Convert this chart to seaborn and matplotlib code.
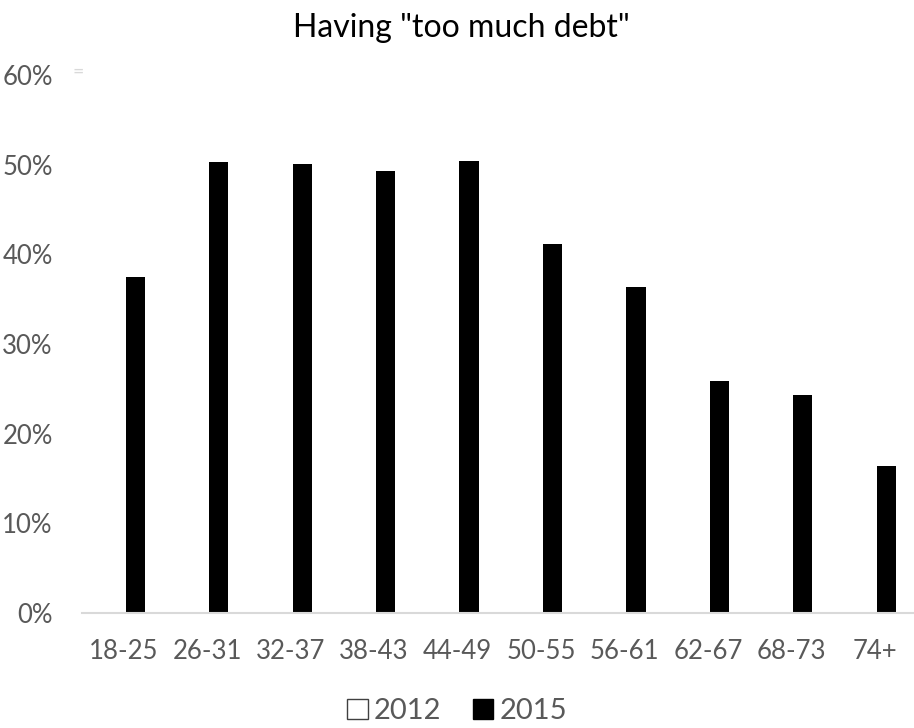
import matplotlib
matplotlib.use("Agg")
import matplotlib.pyplot as plt
from matplotlib.patches import Patch
import numpy as np
import pandas as pd
import seaborn as sns

# Share of respondents saying they have "too much debt", by age group
age_groups = ["18-25", "26-31", "32-37", "38-43", "44-49",
              "50-55", "56-61", "62-67", "68-73", "74+"]
share_2012 = [np.nan] * len(age_groups)
share_2015 = [0.375, 0.503, 0.501, 0.493, 0.504,
              0.412, 0.364, 0.259, 0.243, 0.164]
years = ["2012", "2015"]
y_ticks = [0.0, 0.1, 0.2, 0.3, 0.4, 0.5, 0.6]

df = pd.DataFrame({
    "age": age_groups * 2,
    "year": ["2012"] * len(age_groups) + ["2015"] * len(age_groups),
    "share": share_2012 + share_2015,
})

sns.set_theme(style="white")
plt.rcParams["font.family"] = ["Lato", "DejaVu Sans"]

fig = plt.figure(figsize=(9.14, 7.28), dpi=100)
W, H = 914, 728
ax = fig.add_axes([82 / W, 1 - 613 / H, (914 - 82) / W, (613 - 75) / H])

sns.barplot(data=df, x="age", y="share", hue="year", hue_order=years,
            order=age_groups, palette={"2012": "white", "2015": "black"},
            width=0.552, gap=0.17, errorbar=None, legend=False,
            linewidth=0, ax=ax)

ax.set_xlim(-0.5, 9.47)
ax.set_ylim(0, 0.6)
ax.set_yticks(y_ticks)
ax.set_yticklabels([f"{int(round(t * 100))}%" for t in y_ticks])
ax.set_xlabel("")
ax.set_ylabel("")

for side in ["top", "right", "left"]:
    ax.spines[side].set_visible(False)
ax.spines["bottom"].set_color("#d9d9d9")
ax.spines["bottom"].set_linewidth(1.5)

ax.tick_params(axis="both", length=0, labelsize=18.5, colors="#595959")
ax.tick_params(axis="y", pad=21)
ax.tick_params(axis="x", pad=19)

# faint marker at the top gridline level
fig.text(78 / W, 1 - 72 / H, "=", color="#d9d9d9", fontsize=14,
         ha="center", va="center")

fig.text(0.505, 1 - 28 / H, 'Having "too much debt"', ha="center",
         va="center", fontsize=23, color="black")

handles = [Patch(facecolor="white", edgecolor="#404040", linewidth=1.0),
           Patch(facecolor="black", edgecolor="black")]
fig.legend(handles, years, loc="center", bbox_to_anchor=(0.5, 1 - 711 / H),
           ncol=2, frameon=False, fontsize=21, labelcolor="#595959",
           handlelength=0.7, handleheight=0.7, handletextpad=0.2,
           columnspacing=1.1)

fig.savefig("out.png", dpi=100)
